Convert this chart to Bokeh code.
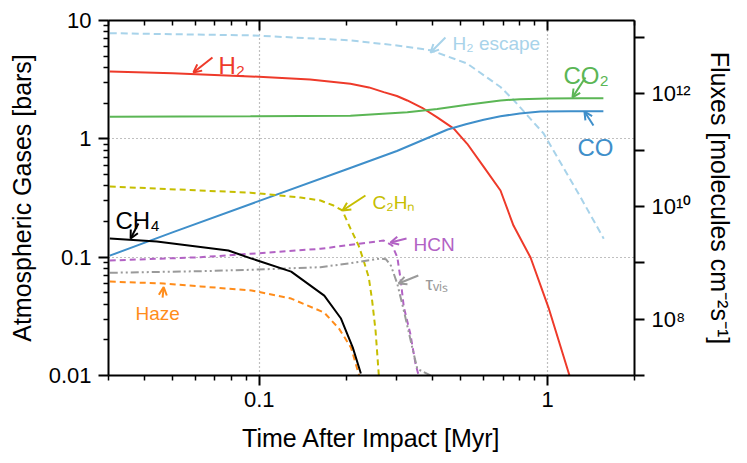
from bokeh.plotting import figure
from bokeh.models import Range1d, LogScale, LogAxis, FixedTicker, Label, Arrow, OpenHead
from bokeh.embed import file_html
from bokeh.resources import INLINE

FONT = "Liberation Sans"

# ---------------- data ----------------
t_h2 = [0.0303, 0.05, 0.0932, 0.15, 0.207, 0.24, 0.27, 0.30, 0.326, 0.367, 0.414, 0.4725, 0.526, 0.601, 0.686, 0.761, 0.872, 1.0065, 1.19]
h2 = [3.70, 3.58, 3.37, 3.17, 2.92, 2.72, 2.48, 2.30, 2.11, 1.83, 1.52, 1.22, 0.908, 0.576, 0.366, 0.185, 0.0993, 0.0375, 0.0100]

t_co2 = [0.0303, 0.0932, 0.207, 0.326, 0.414, 0.526, 0.686, 0.80, 1.0, 1.3, 1.56]
co2 = [1.54, 1.55, 1.57, 1.68, 1.79, 1.94, 2.11, 2.16, 2.19, 2.20, 2.20]

t_co = [0.0303, 0.05, 0.1, 0.2, 0.3, 0.45, 0.52, 0.6, 0.686, 0.8, 0.944, 1.2, 1.56]
co = [0.103, 0.162, 0.299, 0.551, 0.789, 1.20, 1.33, 1.45, 1.55, 1.64, 1.70, 1.71, 1.71]

t_esc = [0.0303, 0.0932, 0.207, 0.30, 0.3925, 0.526, 0.686, 0.763, 0.969, 1.299, 1.565]
h2_escape = [1.19e13, 1.09e13, 8.9e12, 7.2e12, 5.93e12, 3.44e12, 1.32e12, 7.67e11, 1.96e11, 1.47e10, 2.68e9]

t_ch4 = [0.0303, 0.0441, 0.0781, 0.094, 0.129, 0.168, 0.192, 0.211, 0.225]
ch4 = [0.1436, 0.1355, 0.1137, 0.0973, 0.0755, 0.0473, 0.0303, 0.0172, 0.0104]

t_haze = [0.0303, 0.0466, 0.0625, 0.094, 0.129, 0.168, 0.189, 0.208, 0.222]
haze = [0.0622, 0.0599, 0.0566, 0.0523, 0.0447, 0.034, 0.0249, 0.0172, 0.0100]

t_c2hn = [0.0303, 0.0932, 0.139, 0.163, 0.181, 0.194, 0.207, 0.221, 0.230, 0.2397, 0.2462, 0.253, 0.2597]
c2hn = [0.395, 0.351, 0.319, 0.301, 0.273, 0.248, 0.175, 0.1255, 0.0938, 0.0673, 0.043, 0.024, 0.010]

t_hcn = [0.0303, 0.0625, 0.0932, 0.163, 0.270, 0.289, 0.301, 0.309, 0.317, 0.334, 0.348, 0.357]
hcn = [0.0936, 0.0999, 0.1068, 0.1177, 0.1383, 0.1255, 0.0999, 0.065, 0.038, 0.0225, 0.0126, 0.0100]

t_tau = [0.0303, 0.0625, 0.0932, 0.163, 0.207, 0.263, 0.275, 0.286, 0.301, 0.317, 0.339, 0.353, 0.3925]
tau_vis = [0.0738, 0.0761, 0.0782, 0.0823, 0.0889, 0.0975, 0.0960, 0.0850, 0.0595, 0.0354, 0.0173, 0.0114, 0.0100]

x_major = [0.1, 1]
x_labels = ["0.1", "1"]
x_minor = [0.03, 0.04, 0.05, 0.06, 0.07, 0.08, 0.09, 0.2, 0.3, 0.4, 0.5, 0.6, 0.7, 0.8, 0.9, 2]
y_major = [0.01, 0.1, 1, 10]
y_labels = ["0.01", "0.1", "1", "10"]
y_minor = [m * d for d in (0.01, 0.1, 1) for m in range(2, 10)]
flux_ticks = [1e7, 1e8, 1e9, 1e10, 1e11, 1e12, 1e13]
flux_labels = ["", "10⁸", "", "10¹⁰", "", "10¹²", ""]

# colours
C_H2 = "#EE3A2A"
C_CO2 = "#5BB655"
C_CO = "#3F8FCA"
C_ESC = "#A8D3EA"
C_CH4 = "#000000"
C_HAZE = "#FF8C1A"
C_C2HN = "#C6BE00"
C_HCN = "#B262C4"
C_TAU = "#9A9A9A"

# annotations: (text, x, y, colour, size, arrow start x, y, arrow end x, y)
notes = [
    ("H₂", 0.0722, 4.17, C_H2, "24px", 0.0688, 4.87, 0.0591, 3.64),
    ("H₂ escape", 0.4677, 6.39, C_ESC, "19px", 0.442, 7.18, 0.3925, 5.37),
    ("CO₂", 1.134, 3.43, C_CO2, "24px", 1.352, 3.30, 1.219, 2.24),
    ("CO", 1.269, 0.845, C_CO, "24px", 1.441, 1.296, 1.341, 1.70),
    ("CH₄", 0.0317, 0.204, C_CH4, "24px", 0.0381, 0.1925, 0.0358, 0.1438),
    ("Haze", 0.0372, 0.0334, C_HAZE, "19px", 0.0462, 0.0456, 0.0466, 0.0558),
    ("C₂Hₙ", 0.247, 0.2897, C_C2HN, "19px", 0.2334, 0.332, 0.1943, 0.248),
    ("HCN", 0.3424, 0.128, C_HCN, "19px", 0.324, 0.1438, 0.285, 0.133),
    ("τᵥᵢₛ", 0.377, 0.0599, C_TAU, "19px", 0.356, 0.070, 0.304, 0.0599),
]

# ---------------- figure ----------------
p = figure(x_axis_type="log", y_axis_type="log",
           x_range=Range1d(0.03, 2), y_range=Range1d(0.01, 10),
           frame_width=526, frame_height=355,
           min_border_left=108, min_border_top=20, min_border_right=110, min_border_bottom=80,
           output_backend="svg", toolbar_location=None)
p.extra_y_ranges = {"flux": Range1d(1e7, 2e13)}
p.extra_y_scales = {"flux": LogScale()}
p.outline_line_color = None

for g, tk in ((p.xgrid[0], x_major), (p.ygrid[0], [0.1, 1])):
    g.ticker = FixedTicker(ticks=tk)
    g.grid_line_color = "#808080"
    g.grid_line_dash = "1 3"
    g.grid_line_width = 1.2


def style_axis(ax, tin, tout, min_in, min_out):
    ax.axis_line_width = 2
    ax.axis_line_color = "black"
    ax.major_tick_line_color = "black"
    ax.minor_tick_line_color = "black"
    ax.major_tick_line_width = 2
    ax.minor_tick_line_width = 1.5
    ax.major_tick_in = tin
    ax.major_tick_out = tout
    ax.minor_tick_in = min_in
    ax.minor_tick_out = min_out
    ax.major_label_text_font = FONT
    ax.major_label_text_font_size = "22px"
    ax.major_label_text_color = "black"
    ax.axis_label_text_font = FONT
    ax.axis_label_text_font_size = "25px"
    ax.axis_label_text_font_style = "normal"
    ax.axis_label_text_color = "black"


xa = p.xaxis[0]
xa.ticker = FixedTicker(ticks=x_major, minor_ticks=x_minor)
xa.major_label_overrides = dict(zip(x_major, x_labels))
style_axis(xa, 0, 10, 0, 5)
xa.major_label_standoff = 6
xa.axis_label = "Time After Impact [Myr]"
xa.axis_label_standoff = 14

ya = p.yaxis[0]
ya.ticker = FixedTicker(ticks=y_major, minor_ticks=y_minor)
ya.major_label_overrides = dict(zip(y_major, y_labels))
style_axis(ya, 0, 10, 0, 5)
ya.major_label_standoff = 7
ya.axis_label = "Atmospheric Gases [bars]"
ya.axis_label_standoff = 10

top = LogAxis(ticker=FixedTicker(ticks=x_major, minor_ticks=x_minor),
              major_label_overrides=dict(zip(x_major, ["", ""])))
style_axis(top, 10, 0, 5, 0)
top.major_label_standoff = 0
top.major_label_text_font_size = "1px"
p.add_layout(top, "above")

ra = LogAxis(y_range_name="flux", ticker=FixedTicker(ticks=flux_ticks, minor_ticks=[]),
             major_label_overrides=dict(zip(flux_ticks, flux_labels)),
             axis_label="Fluxes [molecules cm⁻²s⁻¹]")
style_axis(ra, 0, 10, 0, 0)
ra.major_label_standoff = 7
ra.axis_label_standoff = 12
p.add_layout(ra, "right")

# ---------------- curves ----------------
p.line(t_esc, h2_escape, y_range_name="flux", line_color=C_ESC, line_width=2, line_dash="7 4")
p.line(t_h2, h2, line_color=C_H2, line_width=2)
p.line(t_co2, co2, line_color=C_CO2, line_width=2)
p.line(t_co, co, line_color=C_CO, line_width=2)
p.line(t_c2hn, c2hn, line_color=C_C2HN, line_width=2, line_dash="6 4")
p.line(t_hcn, hcn, line_color=C_HCN, line_width=2, line_dash="6 4")
p.line(t_tau, tau_vis, line_color=C_TAU, line_width=2, line_dash="8 3 2 3 2 3")
p.line(t_haze, haze, line_color=C_HAZE, line_width=2, line_dash="6 4")
p.line(t_ch4, ch4, line_color=C_CH4, line_width=2)

# ---------------- annotations ----------------
for txt, lx, ly, col, size, sx, sy, ex, ey in notes:
    p.add_layout(Label(x=lx, y=ly, text=txt, text_color=col, text_font=FONT,
                       text_font_size=size, text_baseline="alphabetic", text_align="left"))
    p.add_layout(Arrow(x_start=sx, y_start=sy, x_end=ex, y_end=ey,
                       line_color=col, line_width=2,
                       end=OpenHead(size=8, line_color=col, line_width=2)))

open("out.html", "w").write(file_html(p, INLINE))
